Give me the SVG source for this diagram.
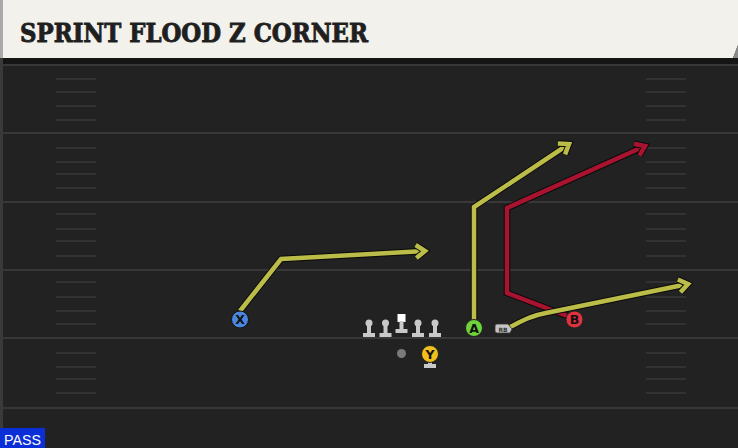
<svg xmlns="http://www.w3.org/2000/svg" width="738" height="448" viewBox="0 0 738 448">
<style>
.yl{stroke:#383838;stroke-width:2}
.hs{stroke:#383838;stroke-width:1.5}
.rt{fill:none;stroke-width:4.5;stroke-linejoin:miter;stroke-linecap:butt}
.ol{fill:none;stroke:#0b0b0b;stroke-width:6.5;stroke-linejoin:miter}
.ylw{stroke:#bcbd48}
.red{stroke:#a8132f}
.lt{font-family:"DejaVu Sans","Liberation Sans",sans-serif;font-weight:bold;font-size:12.5px;fill:#111;text-anchor:middle}
.ln{fill:#c9c9c9}
</style>
<defs>
<marker id="ay" markerUnits="userSpaceOnUse" markerWidth="20" markerHeight="20" refX="0" refY="0" viewBox="-12 -10 14 20" orient="auto" overflow="visible">
<path d="M-9,-6.5 L0,0 L-9,6.5" fill="none" stroke="#0b0b0b" stroke-width="6.5"/>
<path d="M-9,-6.5 L0,0 L-9,6.5" fill="none" stroke="#bcbd48" stroke-width="4.5"/>
</marker>
<marker id="ar" markerUnits="userSpaceOnUse" markerWidth="20" markerHeight="20" refX="0" refY="0" viewBox="-12 -10 14 20" orient="auto" overflow="visible">
<path d="M-9,-6.5 L0,0 L-9,6.5" fill="none" stroke="#0b0b0b" stroke-width="6.5"/>
<path d="M-9,-6.5 L0,0 L-9,6.5" fill="none" stroke="#a8132f" stroke-width="4.5"/>
</marker>
</defs>
<rect x="0" y="0" width="738" height="448" fill="#222222"/>
<rect x="0" y="58" width="738" height="7" fill="#151515"/>
<rect x="0" y="58" width="3" height="390" fill="#3a3a3a"/>
<g id="field">
<line class="yl" x1="0" y1="65" x2="738" y2="65"/>
<line class="yl" x1="0" y1="133" x2="738" y2="133"/>
<line class="yl" x1="0" y1="202" x2="738" y2="202"/>
<line class="yl" x1="0" y1="270" x2="738" y2="270"/>
<line class="yl" x1="0" y1="338" x2="738" y2="338"/>
<line class="yl" x1="0" y1="408" x2="738" y2="408"/>
<g id="hashes-left">
<path class="hs" d="M56,79H96M56,92H96M56,106H96M56,120H96M56,148H96M56,162H96M56,174H96M56,188H96M56,214H96M56,229H96M56,241H96M56,256H96M56,282H96M56,297H96M56,311H96M56,324H96M56,353H96M56,367H96M56,379H96M56,393H96"/>
</g>
<g id="hashes-right">
<path class="hs" d="M646,79H686M646,92H686M646,106H686M646,120H686M646,148H686M646,162H686M646,174H686M646,188H686M646,214H686M646,229H686M646,241H686M646,256H686M646,282H686M646,297H686M646,311H686M646,324H686M646,353H686M646,367H686M646,379H686M646,393H686"/>
</g>
</g>
<g id="header">
<path d="M0,0 H738 V45 L733,58 H0 Z" fill="#f3f1eb"/>
<path d="M738,45 L733,58 H738 Z" fill="#8a8a8a"/>
<rect x="0" y="0" width="3" height="58" fill="#a9a9a9"/>
<text x="20" y="42" font-family="'DejaVu Serif','Liberation Serif',serif" font-weight="bold" font-size="26" fill="#1f1f1f" stroke="#1f1f1f" stroke-width="0.9" textLength="348" lengthAdjust="spacingAndGlyphs">SPRINT FLOOD Z CORNER</text>
</g>
<g id="connectors">
<g id="route-x">
<polyline class="ol" points="240,311 281,259 425,251"/>
<polyline class="rt ylw" points="240,311 281,259 425,251" marker-end="url(#ay)"/>
</g>
<g id="route-a">
<polyline class="ol" points="474,320 474,207 569,144"/>
<polyline class="rt ylw" points="474,320 474,207 569,144" marker-end="url(#ay)"/>
</g>
<g id="route-b">
<polyline class="ol" points="570,317 507,293 507,208 645,146"/>
<polyline class="rt red" points="570,317 507,293 507,208 645,146" marker-end="url(#ar)"/>
</g>
<g id="route-rb">
<path class="ol" d="M510,327 C522,321 530,316 546,313 L688,284"/>
<path class="rt ylw" d="M510,327 C522,321 530,316 546,313 L688,284" marker-end="url(#ay)"/>
</g>
</g>
<g id="line-l2"><circle class="ln" cx="369" cy="323" r="3.5"/><rect class="ln" x="367" y="323" width="4" height="11"/><rect class="ln" x="363" y="333" width="12" height="4"/></g>
<g id="line-l1"><circle class="ln" cx="385.5" cy="323" r="3.5"/><rect class="ln" x="383.5" y="323" width="4" height="11"/><rect class="ln" x="379.5" y="333" width="12" height="4"/></g>
<g id="center"><rect x="397.5" y="314" width="8" height="8" fill="#ffffff"/><rect class="ln" x="399.5" y="321" width="4" height="9"/><rect class="ln" x="395.5" y="329" width="12" height="4"/></g>
<g id="line-r1"><circle class="ln" cx="418" cy="323" r="3.5"/><rect class="ln" x="416" y="323" width="4" height="11"/><rect class="ln" x="412" y="333" width="12" height="4"/></g>
<g id="line-r2"><circle class="ln" cx="435" cy="323" r="3.5"/><rect class="ln" x="433" y="323" width="4" height="11"/><rect class="ln" x="429" y="333" width="12" height="4"/></g>
<g id="ball"><circle cx="401.5" cy="353.5" r="4.5" fill="#7a7a7a"/></g>
<g id="qb-y">
<rect class="ln" x="428" y="360" width="4" height="5"/>
<rect class="ln" x="424" y="364" width="12" height="4"/>
<circle cx="430" cy="354" r="8.5" fill="#f2c01c" stroke="#222" stroke-width="1"/>
<text class="lt" x="430" y="358.5">Y</text>
</g>
<g id="player-x">
<circle cx="240" cy="319.5" r="8.5" fill="#4a86de" stroke="#111" stroke-width="1"/>
<text class="lt" x="240" y="324">X</text>
</g>
<g id="player-a">
<circle cx="474" cy="328" r="8.5" fill="#6fd43c" stroke="#222" stroke-width="1"/>
<text class="lt" x="474" y="332.5">A</text>
</g>
<g id="player-b">
<circle cx="574.5" cy="319.5" r="8.5" fill="#e0333f" stroke="#222" stroke-width="1"/>
<text class="lt" x="574.5" y="324">B</text>
</g>
<g id="player-rb">
<path d="M497,324 H508 L512,329 L510,333 H497 Q495,333 495,331 V326 Q495,324 497,324 Z" fill="#c4c4c4" stroke="#333" stroke-width="0.8"/>
<text x="503" y="331.5" font-family="'DejaVu Sans',sans-serif" font-weight="bold" font-size="6" fill="#333" text-anchor="middle">RB</text>
</g>
<g id="badge">
<rect x="0" y="428" width="45" height="20" fill="#0a2fd6"/>
<text x="4" y="444.5" font-family="'Liberation Sans',sans-serif" font-size="15" fill="#ffffff" textLength="37" lengthAdjust="spacingAndGlyphs">PASS</text>
</g>
</svg>
